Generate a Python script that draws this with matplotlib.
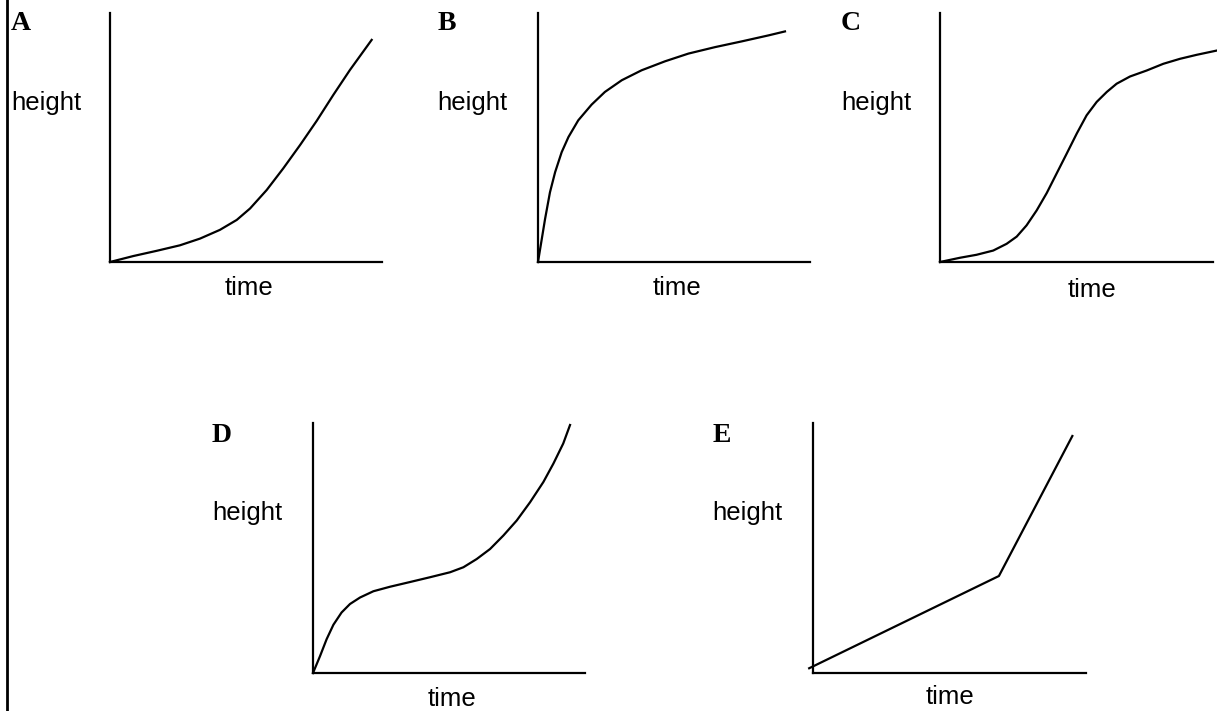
import matplotlib
matplotlib.use("Agg")
import matplotlib.pyplot as plt
from matplotlib.lines import Line2D

W, H = 1217, 711

# curves, time and height as fraction of each axis
a_time = [0, 0.086, 0.172, 0.257, 0.331, 0.404, 0.466, 0.515, 0.576, 0.637, 0.699, 0.760, 0.821, 0.882, 0.962]
a_height = [0, 0.024, 0.045, 0.067, 0.094, 0.129, 0.169, 0.215, 0.289, 0.376, 0.470, 0.567, 0.671, 0.771, 0.892]

b_time = [0, 0.014, 0.026, 0.044, 0.063, 0.087, 0.112, 0.148, 0.197, 0.246, 0.308,
          0.381, 0.467, 0.553, 0.651, 0.749, 0.847, 0.908]
b_height = [0, 0.093, 0.173, 0.280, 0.361, 0.441, 0.502, 0.569, 0.632, 0.683, 0.730,
            0.770, 0.806, 0.837, 0.863, 0.886, 0.910, 0.926]

c_time = [0, 0.073, 0.134, 0.195, 0.244, 0.281, 0.317, 0.354, 0.391, 0.427, 0.464,
          0.501, 0.537, 0.574, 0.611, 0.647, 0.696, 0.757, 0.818, 0.879, 0.940, 1.013]
c_height = [0, 0.017, 0.029, 0.046, 0.073, 0.102, 0.147, 0.207, 0.277, 0.355, 0.435,
            0.516, 0.589, 0.643, 0.683, 0.716, 0.745, 0.769, 0.796, 0.816, 0.832, 0.849]

d_time = [0, 0.026, 0.050, 0.075, 0.105, 0.136, 0.173, 0.222, 0.283, 0.357, 0.430,
          0.504, 0.553, 0.602, 0.651, 0.700, 0.749, 0.798, 0.847, 0.884, 0.920, 0.945]
d_height = [0, 0.068, 0.135, 0.193, 0.242, 0.276, 0.302, 0.327, 0.345, 0.364, 0.383,
            0.403, 0.423, 0.456, 0.496, 0.550, 0.610, 0.683, 0.764, 0.838, 0.918, 0.992]

e_time = [-0.014, 0.681, 0.950]
e_height = [0.019, 0.388, 0.948]

letters = ["A", "B", "C", "D", "E"]

# panel boxes in pixels: left, top, width, height
boxes = [(110, 13, 272, 249), (538, 13, 272, 249), (940, 13, 273, 249),
         (313, 423, 272, 250), (813, 423, 273, 250)]
# letter / "height" / "time" positions in pixels
letter_xy = [(11, 30), (438, 30), (841, 30), (212, 442), (713, 442)]
height_xy = [(11, 110), (437, 110), (841, 110), (212, 520), (712, 520)]
time_xy = [(249, 295), (677, 295), (1092, 297), (452, 706), (950, 704)]

series = [(a_time, a_height), (b_time, b_height), (c_time, c_height),
          (d_time, d_height), (e_time, e_height)]

fig = plt.figure(figsize=(W / 100, H / 100), dpi=100)

for (l, t, w, h), (xs, ys) in zip(boxes, series):
    ax = fig.add_axes([l / W, 1 - (t + h) / H, w / W, h / H])
    ax.plot(xs, ys, color="black", lw=1.6, clip_on=False, solid_joinstyle="round")
    ax.set_xlim(0, 1)
    ax.set_ylim(0, 1)
    ax.spines["top"].set_visible(False)
    ax.spines["right"].set_visible(False)
    for s in ("left", "bottom"):
        ax.spines[s].set_linewidth(1.6)
    ax.set_xticks([])
    ax.set_yticks([])
    ax.patch.set_alpha(0)

def fx(x):
    return x / W

def fy(y):
    return 1 - y / H

for lab, (x, y) in zip(letters, letter_xy):
    fig.text(fx(x), fy(y), lab, family="Liberation Serif", weight="bold",
             fontsize=20, va="baseline", ha="left")
for x, y in height_xy:
    fig.text(fx(x), fy(y), "height", family="Liberation Sans", fontsize=18.5,
             va="baseline", ha="left")
for x, y in time_xy:
    fig.text(fx(x), fy(y), "time", family="Liberation Sans", fontsize=18.5,
             va="baseline", ha="center")

# frame line down the left edge
fig.add_artist(Line2D([7 / W, 7 / W], [0, 1], color="black", lw=2,
                      transform=fig.transFigure))

fig.savefig("out.png", dpi=100)
